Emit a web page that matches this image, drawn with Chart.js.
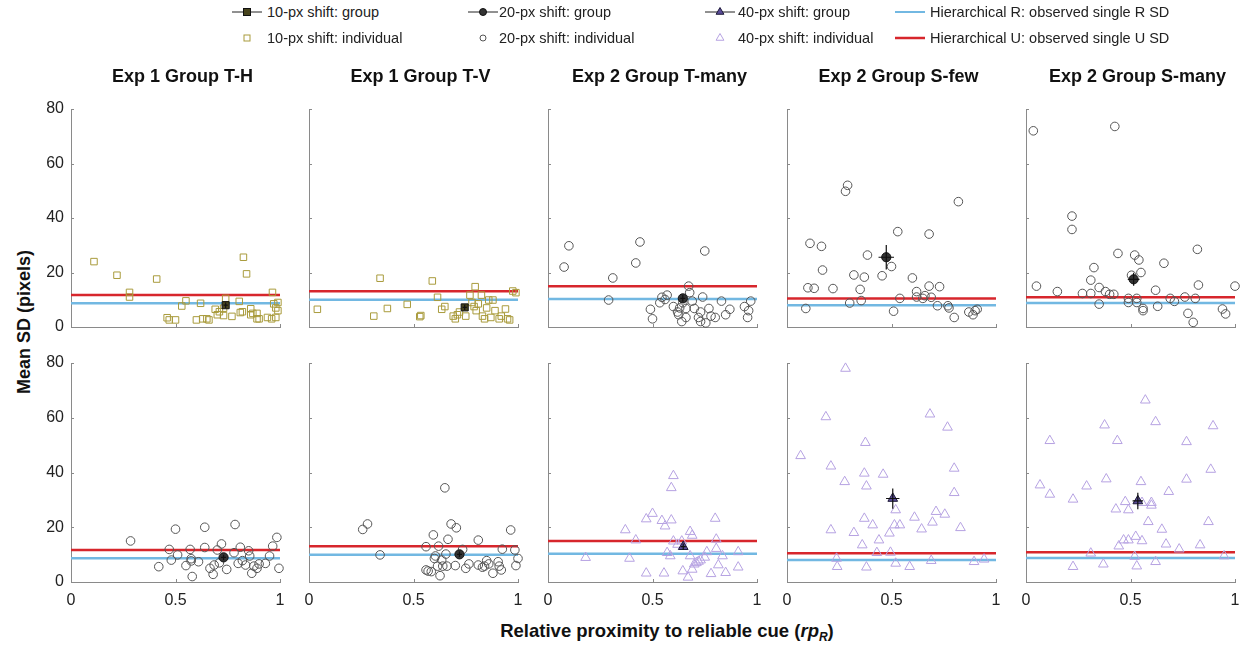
<!DOCTYPE html>
<html>
<head>
<meta charset="utf-8">
<script src="https://cdn.jsdelivr.net/npm/chart.js@4/dist/chart.umd.min.js"></script>
<style>
  body { margin:0; width:1246px; height:646px; background:#fff; position:relative; overflow:hidden;
         font-family:"Liberation Sans", Arial, sans-serif; }
  canvas { position:absolute; }
  .leg { position:absolute; font-size:14.5px; color:#222; white-space:nowrap; line-height:16px; }
  .ico { position:absolute; }
  .ytitle { position:absolute; left:24px; top:322px; font-weight:bold; font-size:18px; color:#111;
            transform:translate(-50%,-50%) rotate(-90deg); white-space:nowrap; }
  .xtitle { position:absolute; left:667px; top:632px; font-weight:bold; font-size:18.5px; color:#111;
            transform:translate(-50%,-50%); white-space:nowrap; }
  .xtitle sub { font-size:12px; }
</style>
</head>
<body>
<div class="ytitle">Mean SD (pixels)</div>
<div class="xtitle">Relative proximity to reliable cue (<i>rp<sub>R</sub></i>)</div>
<script>
// panel titles
const titles = ['Exp 1 Group T-H', 'Exp 1 Group T-V', 'Exp 2 Group T-many', 'Exp 2 Group S-few', 'Exp 2 Group S-many'];

// individual points [rpR, mean SD]
const th10 = [[0.11,24],[0.22,19],[0.28,12.7],[0.28,11],[0.41,17.6],[0.46,3.4],[0.47,2.6],[0.50,2.6],[0.53,7.7],[0.55,9.6],
  [0.60,2.6],[0.62,8.7],[0.63,3],[0.65,3],[0.66,2.6],[0.69,6.5],[0.70,4.5],[0.71,5.6],[0.73,6.9],[0.73,4.2],[0.74,10.5],
  [0.77,3.9],[0.805,9.4],[0.81,5.3],[0.82,5.6],[0.825,25.6],[0.84,19.5],[0.86,6.7],[0.86,4.5],[0.87,5],[0.89,3],[0.89,5],
  [0.90,3],[0.94,3.5],[0.96,3],[0.964,12.7],[0.97,8.5],[0.98,7],[0.98,3.5],[0.99,9],[0.99,6]];
const tv10 = [[0.04,6.5],[0.31,4],[0.34,17.9],[0.375,6.8],[0.47,8.3],[0.53,3.8],[0.535,4.2],[0.59,16.9],[0.615,10.9],[0.635,6.5],
  [0.65,7.5],[0.69,4],[0.70,3],[0.71,4.5],[0.72,5.5],[0.75,4],[0.77,11.7],[0.78,9],[0.795,14.8],[0.79,7.5],[0.80,6],[0.81,8.5],
  [0.825,11.7],[0.83,4],[0.84,3],[0.85,7],[0.86,9.9],[0.87,3.5],[0.88,9.9],[0.89,6],[0.91,3],[0.92,4],[0.94,6.6],[0.95,3],
  [0.96,2.6],[0.975,13.2],[0.99,12.6]];
const tmany20 = [[0.077,22],[0.10,29.8],[0.29,9.9],[0.31,18],[0.42,23.5],[0.44,31.2],[0.49,6.5],[0.50,3],[0.535,8.9],[0.545,10.9],
  [0.56,10.1],[0.57,11.7],[0.60,7.5],[0.62,5.5],[0.625,4.5],[0.63,7],[0.64,2],[0.645,8.9],[0.66,6.8],[0.66,3.5],[0.673,15],
  [0.678,12.6],[0.69,9.5],[0.70,6.8],[0.72,3.5],[0.73,5.5],[0.73,2],[0.74,11],[0.75,27.9],[0.755,1.5],[0.77,6.8],[0.78,4],
  [0.80,3.5],[0.83,9.5],[0.85,4.5],[0.87,6.5],[0.94,7.5],[0.955,3.5],[0.96,6],[0.97,9.5]];
const sfew20 = [[0.09,6.8],[0.10,14.4],[0.11,30.7],[0.13,14.2],[0.165,29.6],[0.17,20.9],[0.22,14.1],[0.28,49.8],[0.29,52],[0.30,8.8],
  [0.32,19.1],[0.35,13.8],[0.355,9.7],[0.37,18.3],[0.385,26.4],[0.455,18.8],[0.50,22.2],[0.51,5.8],[0.53,35],[0.54,10.5],
  [0.60,18],[0.62,13],[0.62,11],[0.65,10.5],[0.66,11.5],[0.68,34.1],[0.68,15],[0.69,10.9],[0.73,14.8],[0.72,7.8],[0.77,7.8],
  [0.775,7],[0.80,3.5],[0.82,46],[0.87,5.5],[0.89,4.5],[0.90,6],[0.91,6.5]];
const smany20 = [[0.035,72],[0.05,15],[0.15,13],[0.22,40.7],[0.22,35.8],[0.27,12.3],[0.31,12.3],[0.31,17.2],[0.325,21.8],[0.35,8.4],
  [0.35,14.5],[0.38,13],[0.40,12],[0.42,12],[0.425,73.6],[0.44,27],[0.49,10.5],[0.49,9],[0.505,19],[0.52,26.4],[0.53,10.5],
  [0.53,9],[0.54,24.6],[0.55,20],[0.56,6.8],[0.56,6],[0.62,13.5],[0.63,7.6],[0.66,23.4],[0.69,10.5],[0.71,9.4],[0.76,11],
  [0.775,5],[0.80,1.7],[0.81,10.5],[0.82,28.5],[0.825,15.4],[0.94,6.6],[0.955,4.8],[1.0,15]];
const th20 = [[0.285,15],[0.42,5.6],[0.47,11.9],[0.48,8],[0.50,19.3],[0.51,9.9],[0.55,6],[0.57,11.9],[0.575,8.5],[0.575,7.7],
  [0.58,2],[0.61,7.4],[0.64,20],[0.64,12.6],[0.665,5],[0.68,2.8],[0.685,6.2],[0.70,11.7],[0.71,7],[0.72,13.9],[0.745,4.6],
  [0.785,21],[0.78,10.7],[0.80,6.8],[0.81,12.7],[0.82,7.8],[0.835,6.2],[0.85,11.4],[0.855,9.5],[0.865,3.2],[0.875,5.8],
  [0.89,5],[0.90,6.6],[0.93,6.8],[0.95,9.5],[0.965,13.1],[0.985,16.3],[0.995,5]];
const tv20 = [[0.257,19.2],[0.28,21.2],[0.34,9.9],[0.56,4.4],[0.57,4],[0.585,3.8],[0.56,12.9],[0.595,17.2],[0.60,8.6],[0.605,9.5],
  [0.615,5.8],[0.62,13.1],[0.627,2.3],[0.635,8],[0.64,5.8],[0.65,34.4],[0.655,10.2],[0.66,5.8],[0.665,15.6],[0.68,21.2],
  [0.705,19.8],[0.70,6],[0.735,11.9],[0.75,5],[0.765,6.6],[0.81,15.3],[0.81,6.2],[0.83,5.4],[0.84,5.8],[0.85,7.8],[0.86,6.6],
  [0.88,3.2],[0.905,7.4],[0.91,5.8],[0.92,4.4],[0.925,12],[0.965,19],[0.985,11.7],[0.99,6],[1.0,8.6]];
const tmany40 = [[0.18,8.9],[0.37,19],[0.39,8.6],[0.42,15.3],[0.47,3.2],[0.47,23],[0.50,25],[0.545,22.4],[0.56,20.4],[0.59,22.6],
  [0.555,3.2],[0.57,10.7],[0.585,9.5],[0.59,34.4],[0.60,38.8],[0.60,14.9],[0.62,13.7],[0.64,14.9],[0.645,4],[0.67,1.7],
  [0.68,18.4],[0.69,17],[0.68,9.5],[0.69,4.6],[0.70,6.5],[0.71,7],[0.72,7.5],[0.73,8],[0.75,9],[0.76,11],[0.78,3],[0.80,23.2],
  [0.805,15.6],[0.805,12.2],[0.835,9.5],[0.815,6.2],[0.85,3.4],[0.91,11],[0.91,5.4]];
const sfew40 = [[0.065,46.1],[0.186,60.3],[0.21,42.3],[0.21,19],[0.237,8.6],[0.24,5.6],[0.276,36.6],[0.28,78],[0.32,18],[0.36,13.5],
  [0.37,39.7],[0.38,35],[0.37,23.2],[0.375,50.9],[0.38,5.4],[0.41,20.8],[0.43,10.7],[0.44,15.3],[0.46,39.3],[0.49,17.8],
  [0.495,10.8],[0.514,20.8],[0.52,6.8],[0.52,26.3],[0.54,20.8],[0.587,5.6],[0.61,23.6],[0.644,19.3],[0.684,61.3],[0.69,7.8],
  [0.696,21.8],[0.713,25.7],[0.755,24.7],[0.768,56.5],[0.80,32.6],[0.80,41.5],[0.83,19.8],[0.895,7.4],[0.943,8.3]];
const smany40 = [[0.067,35.4],[0.114,51.6],[0.114,32],[0.225,30.2],[0.225,5.6],[0.29,35],[0.31,10.5],[0.37,6.5],[0.376,57.3],[0.384,37.6],
  [0.43,26.6],[0.437,51.6],[0.444,13.1],[0.467,15.3],[0.475,29.3],[0.49,26.3],[0.49,15.3],[0.52,9.3],[0.53,5.8],[0.525,16.6],
  [0.55,36.6],[0.555,15],[0.555,29],[0.571,66.4],[0.585,22],[0.60,29],[0.60,28],[0.62,58.5],[0.62,7.4],[0.65,19.2],[0.67,13.8],
  [0.683,33],[0.733,12],[0.768,51.2],[0.768,37.5],[0.833,13.5],[0.873,22],[0.884,41.1],[0.895,57],[0.948,9.5]];

const panelPts = [th10, tv10, tmany20, sfew20, smany20, th20, tv20, tmany40, sfew40, smany40];
const panelShift = [10, 10, 20, 20, 20, 20, 20, 40, 40, 40];

// group means and error bars, same panel order
const groupX = [0.74, 0.745, 0.645, 0.475, 0.515, 0.73, 0.72, 0.647, 0.506, 0.535];
const groupY = [8, 7.2, 10.5, 25.6, 17.5, 9, 10.1, 12.9, 30.5, 29.6];
const groupErrX = [0.01, 0.01, 0.012, 0.037, 0.028, 0.012, 0.012, 0.012, 0.032, 0.025];
const groupErrY = [1, 1, 1.2, 4.5, 2.4, 1, 1, 1.2, 3.7, 3];

// hierarchical model reference lines, one per column
const rLine = [8.7, 10.0, 10.3, 8.0, 8.8];
const uLine = [11.7, 13.1, 15.0, 10.5, 10.9];

const xTicks = [0, 0.5, 1];
const yTicks = [0, 20, 40, 60, 80];

Chart.defaults.font.family = '"Liberation Sans", Arial, sans-serif';

const BLUE = '#72b8e2', RED = '#d7262c';
const styles = {
  10: { shape:'rect', r:4.6, edge:'#a99b3c', gr:5, gfill:'#47431c', gedge:'#111' },
  20: { shape:'circle', r:4.3, edge:'#555555', gr:4.6, gfill:'#333333', gedge:'#111' },
  40: { shape:'triangle', r:5.6, edge:'#b6a2e2', gr:5.6, gfill:'#5a4b98', gedge:'#1c1838' }
};

// layout of plot areas on the page
const plotLeft = [71, 309, 548, 787, 1026];
const plotW = 209;
const plotTop = [109, 363];
const plotBottom = [327, 582];

const inwardTicks = {
  id: 'inwardTicks',
  afterDraw(chart) {
    const { ctx, chartArea: a, scales: { x, y } } = chart;
    ctx.save();
    ctx.strokeStyle = '#8a8a8a';
    ctx.lineWidth = 1;
    ctx.beginPath();
    y.ticks.forEach(t => {
      const py = Math.round(y.getPixelForValue(t.value)) + 0.5;
      ctx.moveTo(a.left, py); ctx.lineTo(a.left + 3, py);
    });
    x.ticks.forEach(t => {
      const px = Math.round(x.getPixelForValue(t.value)) + 0.5;
      ctx.moveTo(px, a.bottom); ctx.lineTo(px, a.bottom - 3);
    });
    ctx.stroke();
    ctx.restore();
  }
};

const errorBars = {
  id: 'errorBars',
  afterDatasetsDraw(chart, args, opts) {
    const { ctx, scales: { x, y } } = chart;
    const cx = x.getPixelForValue(opts.x), cy = y.getPixelForValue(opts.y);
    ctx.save();
    ctx.strokeStyle = '#111';
    ctx.lineWidth = 1.2;
    ctx.beginPath();
    ctx.moveTo(x.getPixelForValue(opts.x - opts.ex), cy);
    ctx.lineTo(x.getPixelForValue(opts.x + opts.ex), cy);
    ctx.moveTo(cx, y.getPixelForValue(opts.y - opts.ey));
    ctx.lineTo(cx, y.getPixelForValue(opts.y + opts.ey));
    ctx.stroke();
    ctx.restore();
  }
};

// panel heading, placed over the plot a little right of centre like the original
const panelTitle = {
  id: 'panelTitle',
  afterDraw(chart, args, opts) {
    if (!opts.text) return;
    const { ctx, chartArea: a } = chart;
    ctx.save();
    ctx.font = 'bold 18px "Liberation Sans", Arial, sans-serif';
    ctx.fillStyle = '#111';
    ctx.textAlign = 'center';
    ctx.textBaseline = 'middle';
    ctx.fillText(opts.text, a.left + a.width / 2 + 7, a.top - 32);
    ctx.restore();
  }
};

function makePanel(i) {
  const row = Math.floor(i / 5), col = i % 5;
  const st = styles[panelShift[i]];
  const cv = document.createElement('canvas');
  const cw = 300, leftPad = 60;
  const topPx = row === 0 ? 62 : 343;
  const xH = row === 0 ? 18 : 30;
  const ch = plotBottom[row] - topPx + xH;
  cv.width = cw; cv.height = ch;
  cv.style.left = (plotLeft[col] - leftPad) + 'px';
  cv.style.top = topPx + 'px';
  document.body.appendChild(cv);

  new Chart(cv, {
    type: 'scatter',
    data: {
      datasets: [
        { label: 'group', data: [{ x: groupX[i], y: groupY[i] }], pointStyle: st.shape, pointRadius: st.gr,
          backgroundColor: st.gfill, borderColor: st.gedge, borderWidth: 1, order: 0, clip: false },
        { label: 'individual', data: panelPts[i].map(p => ({ x: p[0], y: p[1] })), pointStyle: st.shape,
          pointRadius: st.r, backgroundColor: 'rgba(0,0,0,0)', borderColor: st.edge, borderWidth: 1, order: 1, clip: false },
        { label: 'U', data: [{ x: 0, y: uLine[col] }, { x: 1, y: uLine[col] }], showLine: true, pointRadius: 0,
          borderColor: RED, borderWidth: 2.5, order: 2 },
        { label: 'R', data: [{ x: 0, y: rLine[col] }, { x: 1, y: rLine[col] }], showLine: true, pointRadius: 0,
          borderColor: BLUE, borderWidth: 2.5, order: 3 }
      ]
    },
    options: {
      responsive: false,
      animation: false,
      events: [],
      layout: { padding: { left: 0, right: cw - leftPad - plotW, top: plotTop[row] - topPx, bottom: 0 } },
      plugins: {
        legend: { display: false },
        tooltip: { enabled: false },
        title: { display: false },
        panelTitle: { text: row === 0 ? titles[col] : '' },
        errorBars: { x: groupX[i], y: groupY[i], ex: groupErrX[i], ey: groupErrY[i] }
      },
      scales: {
        x: {
          type: 'linear', min: 0, max: 1,
          afterBuildTicks: s => { s.ticks = xTicks.map(v => ({ value: v })); },
          ticks: { display: row === 1, padding: 9, color: '#222', font: { size: 16 }, callback: v => String(v), maxRotation: 0 },
          grid: { display: false, drawTicks: false },
          border: { display: true, color: '#8a8a8a', width: 1 },
          afterFit: s => { s.height = xH; }
        },
        y: {
          type: 'linear', min: 0, max: 80,
          afterBuildTicks: s => { s.ticks = yTicks.map(v => ({ value: v })); },
          ticks: { display: col === 0, padding: 7, color: '#222', font: { size: 16 }, callback: v => String(v) },
          grid: { display: false, drawTicks: false },
          border: { display: true, color: '#8a8a8a', width: 1 },
          afterFit: s => { s.width = leftPad; }
        }
      }
    },
    plugins: [inwardTicks, errorBars, panelTitle]
  });
}

for (let i = 0; i < 10; i++) makePanel(i);

// legend (HTML text, small svg keys)
function markerSvg(shape, fill, edge, r) {
  if (shape === 'rect') return `<rect x="${16 - r}" y="${8 - r}" width="${2 * r}" height="${2 * r}" fill="${fill}" stroke="${edge}"/>`;
  if (shape === 'circle') return `<circle cx="16" cy="8" r="${r}" fill="${fill}" stroke="${edge}"/>`;
  const w = r * 0.866;
  return `<polygon points="16,${8 - r} ${16 + w},${8 + r / 2} ${16 - w},${8 + r / 2}" fill="${fill}" stroke="${edge}"/>`;
}
const legCols = [247, 483, 720, 910];
const legText = [267, 499, 738, 930];
const legRows = [12, 38];
const legItems = [
  { col: 0, row: 0, text: '10-px shift: group', line: '#222', m: ['rect', styles[10].gfill, '#111', 3.5] },
  { col: 0, row: 1, text: '10-px shift: individual', m: ['rect', 'none', styles[10].edge, 3] },
  { col: 1, row: 0, text: '20-px shift: group', line: '#222', m: ['circle', '#333', '#111', 3.5] },
  { col: 1, row: 1, text: '20-px shift: individual', m: ['circle', 'none', '#555', 3] },
  { col: 2, row: 0, text: '40-px shift: group', line: '#222', m: ['triangle', styles[40].gfill, '#1c1838', 4.5] },
  { col: 2, row: 1, text: '40-px shift: individual', m: ['triangle', 'none', styles[40].edge, 4.5] },
  { col: 3, row: 0, text: 'Hierarchical R: observed single R SD', line: BLUE, lw: 2 },
  { col: 3, row: 1, text: 'Hierarchical U: observed single U SD', line: RED, lw: 2.5 }
];
legItems.forEach(it => {
  const ico = document.createElement('div');
  ico.className = 'ico';
  ico.style.left = (legCols[it.col] - 16) + 'px';
  ico.style.top = (legRows[it.row] - 8) + 'px';
  let svg = '<svg width="32" height="16" xmlns="http://www.w3.org/2000/svg">';
  if (it.line) svg += `<line x1="1" y1="8" x2="31" y2="8" stroke="${it.line}" stroke-width="${it.lw || 1}"/>`;
  if (it.m) svg += markerSvg(...it.m);
  svg += '</svg>';
  ico.innerHTML = svg;
  document.body.appendChild(ico);
  const t = document.createElement('div');
  t.className = 'leg';
  t.style.left = legText[it.col] + 'px';
  t.style.top = (legRows[it.row] - 8) + 'px';
  t.textContent = it.text;
  document.body.appendChild(t);
});
</script>
</body>
</html>
